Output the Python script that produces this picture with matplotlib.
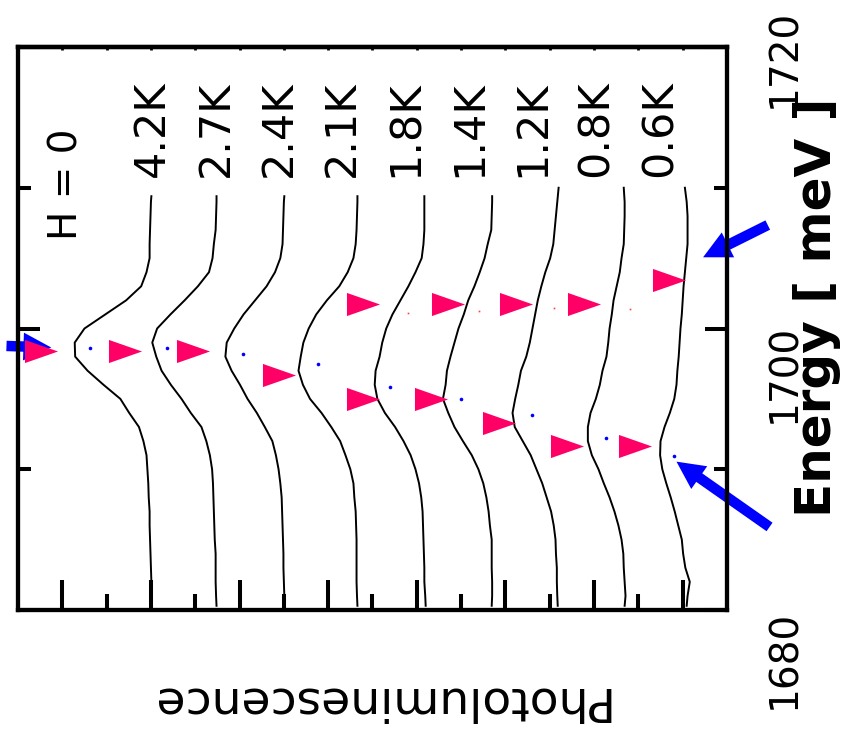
import matplotlib.pyplot as plt
from matplotlib.ticker import FixedLocator, MultipleLocator

plt.rcParams['font.family'] = ['DejaVu Sans']

# photon energy of the sample points [meV]; the last point of each trace is in trace_top
energy = [1680.3, 1681, 1682, 1683, 1684, 1685, 1686, 1687, 1688, 1689,
          1690, 1691, 1692, 1693, 1694, 1695, 1696, 1697, 1698, 1699,
          1700, 1701, 1702, 1703, 1704, 1705, 1706, 1707, 1708, 1709]
trace_top = [1709.4, 1709.4, 1709.4, 1709.4, 1709.4, 1709.4, 1710.0, 1710.0, 1710.0]

temps = ['4.2K', '2.7K', '2.4K', '2.1K', '1.8K', '1.4K', '1.2K', '0.8K', '0.6K']

# PL intensity (arb. units, offset per temperature)
pl_4p2 = [11.99, 11.99, 11.99, 12.00, 12.01, 12.02, 12.03, 12.03, 12.05, 12.06,
          12.08, 12.10, 12.17, 12.27, 12.49, 12.69, 13.07, 13.43, 13.71, 13.72,
          13.50, 13.03, 12.56, 12.22, 12.10, 12.03, 12.03, 12.02, 12.01, 12.00, 11.99]
pl_2p7 = [10.52, 10.53, 10.54, 10.54, 10.54, 10.56, 10.57, 10.58, 10.59, 10.60,
          10.62, 10.67, 10.75, 10.86, 11.10, 11.31, 11.55, 11.76, 11.88, 11.97,
          11.86, 11.56, 11.24, 10.94, 10.69, 10.61, 10.58, 10.54, 10.53, 10.52, 10.52]
pl_2p4 = [8.99, 8.99, 9.00, 9.01, 9.01, 9.02, 9.03, 9.04, 9.05, 9.08,
          9.12, 9.18, 9.26, 9.43, 9.61, 9.82, 9.99, 10.18, 10.32, 10.29,
          10.12, 9.91, 9.65, 9.39, 9.20, 9.08, 9.03, 9.02, 9.01, 9.00, 8.99]
pl_2p1 = [7.34, 7.35, 7.36, 7.36, 7.36, 7.36, 7.37, 7.38, 7.41, 7.43,
          7.50, 7.61, 7.73, 7.93, 8.15, 8.41, 8.57, 8.67, 8.62, 8.56,
          8.44, 8.27, 8.03, 7.75, 7.56, 7.43, 7.38, 7.36, 7.35, 7.34, 7.34]
pl_1p8 = [5.80, 5.81, 5.83, 5.83, 5.84, 5.85, 5.86, 5.87, 5.90, 5.95,
          6.03, 6.14, 6.30, 6.49, 6.72, 6.89, 6.95, 6.93, 6.84, 6.78,
          6.69, 6.55, 6.37, 6.19, 6.03, 5.89, 5.85, 5.83, 5.83, 5.83, 5.83]
pl_1p4 = [4.31, 4.30, 4.30, 4.31, 4.31, 4.31, 4.35, 4.38, 4.43, 4.50,
          4.61, 4.76, 4.96, 5.15, 5.29, 5.41, 5.35, 5.32, 5.24, 5.15,
          5.06, 4.94, 4.84, 4.70, 4.58, 4.47, 4.40, 4.32, 4.31, 4.30, 4.30]
pl_1p2 = [2.82, 2.83, 2.84, 2.84, 2.86, 2.87, 2.91, 2.97, 3.07, 3.17,
          3.30, 3.43, 3.61, 3.79, 3.84, 3.78, 3.71, 3.65, 3.53, 3.45,
          3.39, 3.33, 3.27, 3.19, 3.10, 2.99, 2.92, 2.89, 2.86, 2.83, 2.80]
pl_0p8 = [1.31, 1.29, 1.31, 1.33, 1.34, 1.38, 1.45, 1.54, 1.65, 1.78,
          1.90, 2.05, 2.14, 2.14, 2.08, 1.96, 1.87, 1.81, 1.72, 1.68,
          1.65, 1.60, 1.56, 1.49, 1.42, 1.38, 1.33, 1.32, 1.31, 1.31, 1.33]
pl_0p6 = [-0.09, -0.11, -0.16, -0.06, -0.01, 0.02, 0.10, 0.18, 0.27, 0.37,
          0.46, 0.51, 0.50, 0.41, 0.29, 0.19, 0.14, 0.12, 0.09, 0.07,
          0.05, 0.02, 0.00, -0.02, -0.05, -0.08, -0.11, -0.11, -0.11, -0.09, -0.05]
traces = [pl_4p2, pl_2p7, pl_2p4, pl_2p1, pl_1p8, pl_1p4, pl_1p2, pl_0p8, pl_0p6]

# peak positions (triangles)
peak_e = [1698.4, 1698.4, 1698.4, 1696.7, 1701.74, 1694.96, 1701.74, 1694.99,
          1701.74, 1701.74, 1703.45, 1693.32, 1691.62, 1691.62]
peak_pl = [14.48, 12.58, 11.04, 9.12, 7.21, 7.21, 5.29, 5.68,
           3.76, 2.22, 0.32, 4.14, 2.61, 1.08]

# fitted line centres (blue dots) and weak features (red dots)
blue_e = [1698.64, 1698.64, 1698.19, 1697.50, 1695.87, 1694.96, 1693.85, 1692.24, 1690.94]
blue_pl = [13.37, 11.63, 9.93, 8.23, 6.60, 5.00, 3.40, 1.72, 0.20]
red_e = [1701.12, 1701.27, 1701.44, 1701.42]
red_pl = [6.20, 4.60, 2.90, 1.20]

# arrows: (tail, head) in (PL, energy)
arrows = [((15.26, 1698.76), (14.25, 1698.65)),
          ((-1.96, 1685.90), (0.14, 1690.54)),
          ((-1.92, 1707.35), (-0.46, 1705.06))]

energy_ticks = [1680, 1700, 1720]
energy_label_pos = [1676.5, 1696.8, 1719.2]

fig = plt.figure(figsize=(8.41, 7.35), dpi=100)
ax = fig.add_axes([18 / 841, 125 / 735, 709 / 841, 563 / 735])

for trace, top in zip(traces, trace_top):
    ax.plot(trace, energy + [top], color='black', lw=1.4, zorder=2)

for (tail, head) in arrows:
    ax.annotate('', xy=head, xytext=tail, annotation_clip=False, zorder=2.5,
                arrowprops=dict(arrowstyle='simple,head_length=2.0,head_width=2.0,tail_width=0.75',
                                mutation_scale=10, shrinkA=0, shrinkB=0,
                                color='#0000ff', lw=0))

tri = [(-1, -0.7), (1, 0), (-1, 0.7)]
ax.plot(peak_pl, peak_e, ls='none', marker=tri, ms=23.8, mew=0, color='#ff0066', zorder=3)
ax.plot(blue_pl, blue_e, ls='none', marker='o', ms=2.6, mew=0, color='#0000ff', zorder=4)
ax.plot(red_pl, red_e, ls='none', marker='s', ms=1.2, mew=0, color='#ff4040', zorder=4)

ax.set_xlim(15, -1)
ax.set_ylim(1680, 1720)

for s in ax.spines.values():
    s.set_linewidth(3.1)

ax.xaxis.set_major_locator(FixedLocator(range(0, 15, 2)))
ax.xaxis.set_minor_locator(FixedLocator(range(1, 15, 2)))
ax.tick_params(axis='x', which='both', direction='in', bottom=True, top=False,
               labelbottom=False, width=2.9)
ax.tick_params(axis='x', which='major', length=21.6)
ax.tick_params(axis='x', which='minor', length=11.5)

ax.yaxis.set_major_locator(FixedLocator(energy_ticks))
ax.yaxis.set_minor_locator(MultipleLocator(10))
ax.tick_params(axis='y', which='both', direction='in', left=True, right=True,
               labelleft=False, labelright=False, width=2.9)
ax.tick_params(axis='y', which='major', length=15.8)
ax.tick_params(axis='y', which='minor', length=9.4)

# energy tick labels beside the right spine (baseline at the right edge of the digits)
xb = (795 - 18) / 709
for val, pos in zip(energy_ticks, energy_label_pos):
    ax.text(xb, pos, str(val), transform=ax.get_yaxis_transform(), rotation=90,
            rotation_mode='anchor', ha='center', va='baseline', fontsize=28,
            clip_on=False)

top_ax = ax.secondary_xaxis('top')
top_ax.set_xticks(range(0, 15))
top_ax.tick_params(direction='in', length=2, width=2, labeltop=False)
top_ax.spines['top'].set_linewidth(3.1)

for i, t in enumerate(temps):
    ax.text(11.70 - 1.43 * i, 1710.76, t, rotation=90, rotation_mode='anchor',
            ha='left', va='baseline', fontsize=31)
ax.text(13.66, 1706.29, 'H = 0', rotation=90, rotation_mode='anchor',
        ha='left', va='baseline', fontsize=28)

fig.text(377 / 841, 1 - 700 / 735, 'Photoluminescence', rotation=180,
         ha='center', va='center', fontsize=34)
fig.text(831 / 841, 1 - 307 / 735, 'Energy [ meV ]', rotation=90,
         rotation_mode='anchor', ha='center', va='baseline',
         fontsize=36, fontweight='bold')

fig.savefig('out.png', dpi=100)
